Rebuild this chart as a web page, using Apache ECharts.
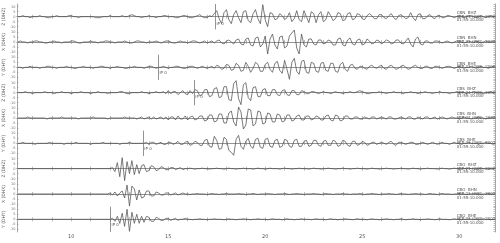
<!DOCTYPE html>
<html><head><meta charset="utf-8">
<script src="https://cdn.jsdelivr.net/npm/echarts@6/dist/echarts.min.js"></script>
<style>html,body{margin:0;padding:0;background:#fff}#c{width:500px;height:243px}</style>
</head><body><div id="c"></div>
<script>
// time axis (seconds) and sampling
const XMIN = 7.2, XMAX = 31.85;
const T0 = 7.25, DT = 0.125;
const xTickLabels = [10, 15, 20, 25, 30];
const yTickValues = [-10, -5, 0, 5, 10];

// component names (left) and station labels (right)
const compNames = ['Z (DHZ)', 'X (DHX)', 'Y (DHY)', 'Z (DHZ)', 'X (DHX)', 'Y (DHY)', 'Z (DHZ)', 'X (DHX)', 'Y (DHY)'];
const stationNames = ['CBN  BHZ', 'CBN  BHN', 'CBN  BHE', 'CBS  BHZ', 'CBS  BHN', 'CBS  BHE', 'CBO  BHZ', 'CBO  BHN', 'CBO  BHE'];
const dateLine = 'SEP 21 (264), 2002';
const timeLine = '01:55:10.000';

// picks: panel index -> time (s), label, label amplitude
const pickPanels = [0, 2, 3, 5, 8];
const pickTimes = [17.41, 14.47, 16.32, 13.69, 12.0];
const pickLabels = ['iP 0', 'iP 0', 'iP 0', 'iP 0', 'iP 0'];
const pickLabelAmp = [-7, -6, -4, -6, -6];

const trace1 = [
0,0,1,0,0,-1,0,0,0,1,
0,0,-1,-1,0,0,1,0,0,0,
0,1,1,0,0,-1,0,0,0,0,
0,0,-1,-1,-1,0,0,0,1,0,
0,0,0,1,0,0,1,2,1,0,
0,-1,0,0,1,0,0,-1,0,0,
1,1,0,0,0,-1,-1,0,1,1,
0,-1,-1,0,1,2,0,-1,-1,1,
0,3,6,-2,-7,4,7,-3,-7,2,
6,-1,-6,5,6,-4,-6,3,7,-2,
-7,12,-3,-10,4,3,-3,-2,3,1,
-3,-1,4,-5,-2,6,-3,-5,6,0,
-6,5,3,-6,2,5,-5,-3,5,1,
-4,-2,4,3,-4,-3,3,4,-3,-2,
3,2,-2,-3,1,3,1,-2,-2,2,
2,-1,-2,1,3,-1,-3,1,2,0,
-2,-1,4,-1,-4,2,3,-2,-2,1,
2,-1,-2,1,1,-1,-1,1,1,0,
-1,0,1,0,-1,0,1,1,0,-1,
0,1,0,-1,0,1,0,0];

const trace2 = [
0,1,0,0,-1,0,0,1,1,0,
0,-1,-1,0,0,1,0,0,-1,0,
0,0,1,1,0,-1,-1,0,0,0,
1,0,0,-1,0,0,1,1,0,0,
-1,0,0,0,1,0,-1,-1,0,1,
1,0,0,-1,0,0,0,1,0,-1,
0,1,1,0,-1,-1,0,1,0,0,
-1,0,1,1,0,-1,0,1,-1,0,
1,-1,1,2,-1,-2,1,2,0,-2,
2,3,-2,-3,3,4,-3,-4,4,5,
-5,-2,6,-12,3,8,-3,-7,5,6,
-6,-4,6,9,12,-6,-12,8,-3,-5,
3,3,-2,-3,2,2,-2,-1,2,1,
-3,-3,3,4,-3,-4,2,4,-2,-3,
2,3,-3,-2,3,1,-2,-1,2,1,
-2,0,2,1,-2,-1,2,2,-1,-2,
1,4,-2,-5,3,5,-2,-3,1,1,
-1,-1,1,1,0,-1,0,1,0,-1,
0,1,1,0,-1,0,1,0,0,1,
0,-1,0,1,0,0,1,0];

const trace3 = [
0,0,-1,0,0,1,0,0,0,-1,
0,0,1,1,0,0,-1,0,0,0,
1,0,0,-1,-1,0,0,1,0,0,
0,-1,0,0,1,1,0,0,-1,0,
0,1,0,0,-1,-1,0,0,1,0,
0,0,-1,0,1,1,0,-1,0,0,
1,0,-1,0,0,1,1,0,-1,-1,
0,1,1,0,-1,0,1,0,-1,0,
1,-1,2,1,-2,-1,3,2,-3,-2,
4,2,-4,-3,5,1,-5,-1,5,3,
-4,-4,3,5,-2,-5,4,6,-3,-6,
7,-2,-12,5,9,-4,-7,6,7,-5,
-6,5,4,-4,-5,4,5,-3,-4,4,
4,-4,-5,3,5,-2,-4,2,3,-1,
-2,1,1,-1,-2,1,2,0,-1,1,
2,-1,-2,1,2,0,-2,-1,1,2,
0,-2,-1,1,2,0,-1,-1,1,1,
-1,-1,1,1,0,-1,0,1,1,0,
-1,0,1,0,-1,0,0,1,0,-1,
0,1,0,0,-1,0,1,0];

const trace4 = [
0,0,0,1,0,0,-1,0,0,0,
0,1,0,0,0,-1,0,0,1,0,
0,0,-1,0,0,0,1,0,0,0,
-1,0,0,1,0,0,0,-1,0,0,
0,0,1,1,0,-1,-1,0,0,0,
0,1,0,0,-1,0,0,1,0,0,
1,-1,2,-1,1,1,-2,0,2,-1,
-2,2,-1,3,2,-3,-2,3,3,-4,
-3,4,5,-5,-4,6,6,-7,-8,9,
12,-6,-12,8,10,-5,-8,5,6,-4,
-4,3,4,-3,-3,3,3,-2,-3,2,
3,-2,-3,2,2,-2,-2,2,1,-1,
-1,1,1,0,-1,0,1,0,0,-1,
0,1,0,0,-1,0,0,1,0,0,
1,2,1,0,-1,-1,0,0,0,1,
0,0,-1,0,0,1,0,0,0,-1,
0,0,1,0,0,-1,0,0,1,0,
0,-1,0,0,1,0,0,0,-1,0,
0,1,0,0,0,-1,0,0,1,0,
0,0,-1,0,0,1,0,0];

const trace5 = [
0,0,0,0,1,0,0,0,0,0,
0,0,-1,0,0,0,0,0,1,0,
0,0,0,0,0,-1,0,0,0,0,
0,1,0,0,0,0,0,-1,0,0,
0,0,0,0,1,0,0,0,0,-1,
0,1,-1,0,1,-1,1,-1,0,1,
-1,1,-2,1,1,-2,2,-1,-1,2,
-2,1,2,-2,-1,2,2,-3,-2,3,
3,-4,-3,4,4,-5,-5,5,7,-4,
-8,11,6,-11,-7,9,8,-8,-6,7,
6,-6,-5,5,4,-4,-4,4,3,-4,
-3,3,3,-3,-2,2,3,-2,-2,2,
2,-2,-1,2,1,-2,-2,2,3,-2,
-3,3,2,-3,-2,2,2,-1,-1,1,
1,-1,-1,1,0,-1,1,1,-1,0,
1,0,-1,1,1,-1,-1,0,1,0,
-1,1,1,-1,-1,1,0,-1,1,1,
-1,0,1,-1,0,1,0,-1,0,1,
0,0,-1,0,1,0,0,-1,0,0,
1,0,0,-1,0,0,1,0];

const trace6 = [
0,0,1,0,0,0,0,-1,0,0,
0,0,0,1,0,0,0,0,0,-1,
0,0,0,0,1,0,0,0,0,0,
-1,0,0,0,0,1,0,0,0,0,
0,0,-1,0,0,0,1,0,0,0,
0,0,0,1,-1,1,1,-1,0,1,
-1,-1,1,1,-1,0,2,-1,-1,1,
2,-2,-1,2,1,-2,-2,3,4,-3,
-4,7,3,-6,-5,6,4,-7,-9,-12,
4,8,-3,-6,2,5,-3,-5,4,5,
-4,-5,4,5,-3,-4,3,4,-4,-3,
4,3,-3,-4,3,4,-3,-3,2,3,
-3,-2,3,3,-2,-3,2,3,-2,-2,
3,2,-3,-2,3,2,-2,-3,2,2,
-2,-1,2,1,-2,-1,1,1,-1,0,
1,0,-1,1,2,-1,-2,1,1,0,
-1,0,1,1,-1,-1,0,1,0,-1,
0,1,0,-1,0,1,0,0,-1,0,
1,0,0,-1,0,0,1,0,0,0,
-1,0,0,1,0,0,-1,0];

const trace7 = [
0,0,0,0,0,0,0,0,0,0,
0,0,0,0,0,0,0,0,0,0,
0,0,0,0,0,0,0,0,0,0,
0,0,0,0,0,0,0,0,0,1,
-3,6,-8,11,-12,7,-5,8,-6,4,
-5,3,4,-3,-2,3,2,-2,-1,2,
1,-1,-1,1,1,-1,0,1,-1,0,
0,0.5,0,-0.5,0,0,0.5,0,0,-0.5,
0,0,0.5,0,0,-0.5,0,0.5,0,0,
-0.5,0,0,0.5,0,0,0,-0.5,0,0.5,
0,0,-0.5,0,0.5,0,0,0,-0.5,0,
0.5,0,0,-0.5,0,0,0.5,0,0,0,
-0.5,0,0.5,0,0,-0.5,0,0,0.5,0,
0,-0.5,0,0,0.5,0,0,-0.5,0,0,
0.5,0,0,0,-0.5,0,0.5,0,0,-0.5,
0,0,0.5,0,0,-0.5,0,0,0.5,0,
0,-0.5,0,0.5,0,0,-0.5,0,0,0.5,
0,0,0,-0.5,0,0.5,0,0,-0.5,0,
0.5,0,0,-0.5,0,0,0.5,0,0,-0.5,
0,0.5,0,0,-0.5,0,0,0.5];

const trace8 = [
0,0,0,0,0,0,0,0,0,0,
0,0,0,0,0,0,0,0,0,0,
0,0,0,0,0,0,0,0,0,0,
0,0,0,0,0,0,0,0,1,-1,
2,-2,1,3,-4,9,-12,8,5,-6,
4,-4,-3,3,3,-2,-2,2,1,-1,
-1,1,1,-1,0,1,-1,0,1,0,
0,-0.5,0,0,0.5,0,0,0,-0.5,0,
0.5,0,0,-0.5,0,0,0.5,0,0,0,
0,0.5,0,0,-0.5,0,0,0.5,0,-0.5,
0,0,0,0.5,0,0,-0.5,0,0,0,
0.5,0,-0.5,0,0,0.5,0,0,-0.5,0,
0,0,0.5,0,0,-0.5,0,0.5,0,0,
-0.5,0,0,0,0.5,0,0,-0.5,0,0,
0,0.5,0,-0.5,0,0,0.5,0,0,-0.5,
0,0,0,0.5,0,0,-0.5,0,0.5,0,
0,-0.5,0,0,0.5,0,0,0,-0.5,0,
0.5,0,0,-0.5,0,0.5,0,0,0,-0.5,
0,0,0.5,0,0,-0.5,0,0,0.5,0,
0,-0.5,0,0,0.5,0,0,0];

const trace9 = [
0,0,0,0,0,0,0,0,0,0,
0,0,0,0,0,0,0,0,0,0,
0,0,0,0,0,0,0,0,0,0,
0,0,0,0,0,0,0,0,0,1,
-2,3,-4,6,-7,10,-12,7,-4,5,
-4,3,-3,3,2,-2,-2,2,1,-1,
-1,1,1,-1,0,1,-1,0,0,1,
0,0,-0.5,0,0,0.5,0,0,-0.5,0,
0,0.5,0,0,0,-0.5,0,0.5,0,0,
-0.5,0,0,0.5,0,0,-0.5,0,0,0.5,
0,0,0,-0.5,0,0.5,0,0,0,-0.5,
0,0.5,0,0,-0.5,0,0,0.5,0,0,
0,-0.5,0,0.5,0,0,0,-0.5,0,0.5,
0,0,-0.5,0,0,0.5,0,0,-0.5,0,
0.5,0,0,0,-0.5,0,0.5,0,0,-0.5,
0,0,0.5,0,0,-0.5,0,0,0.5,0,
-0.5,0,0,0.5,0,0,-0.5,0,0,0.5,
0,0,-0.5,0,0.5,0,0,0,-0.5,0,
0.5,0,0,-0.5,0,0,0.5,0,0,0,
-0.5,0,0.5,0,0,-0.5,0,0];

const traces = [trace1, trace2, trace3, trace4, trace5, trace6, trace7, trace8, trace9];

// layout
const PANEL_TOP = 4, PANEL_H = 25.33, YM = 12.67;
const FONT = 'DejaVu Sans';
const secTicks = [];
for (let s = 8; s <= 31; s++) secTicks.push(s);
const rightTicks = [];
for (let v = -12; v <= 12; v += 2) rightTicks.push(v);

const grid = [], xAxis = [], yAxis = [], series = [];
const axLine = { show: true, lineStyle: { color: '#8f8f8f', width: 0.8 } };
const tickStyle = { color: '#8f8f8f', width: 0.6 };

traces.forEach((tr, k) => {
  grid.push({ left: 17, right: 5, top: PANEL_TOP + k * PANEL_H, height: PANEL_H,
              containLabel: false, outerBoundsMode: 'none' });
  xAxis.push({
    type: 'value', gridIndex: k, min: XMIN, max: XMAX, position: 'bottom',
    axisLine: axLine,
    axisTick: { show: true, inside: true, length: 2, customValues: secTicks, lineStyle: tickStyle },
    axisLabel: { show: k === 8, customValues: xTickLabels, fontSize: 5, margin: 2, color: '#555', fontFamily: FONT },
    splitLine: { show: false }
  });
  xAxis.push({
    type: 'value', gridIndex: k, min: XMIN, max: XMAX, position: 'top',
    axisLine: axLine,
    axisTick: { show: true, inside: true, length: 2, customValues: secTicks, lineStyle: tickStyle },
    axisLabel: { show: false },
    splitLine: { show: false }
  });
  yAxis.push({
    type: 'value', gridIndex: k, min: -YM, max: YM, position: 'left',
    axisLine: axLine,
    axisTick: { show: true, inside: true, length: 1.5, customValues: yTickValues, lineStyle: tickStyle },
    axisLabel: { show: true, customValues: yTickValues, fontSize: 3.5, margin: 1.5, color: '#777', fontFamily: FONT },
    name: compNames[k], nameLocation: 'middle', nameRotate: 90, nameGap: 11,
    nameMoveOverlap: false,
    nameTextStyle: { fontSize: 4.5, color: '#555', fontFamily: FONT },
    splitLine: { show: false }
  });
  yAxis.push({
    type: 'value', gridIndex: k, min: -YM, max: YM, position: 'right',
    axisLine: axLine,
    axisTick: { show: true, inside: true, length: 1.5, customValues: rightTicks, lineStyle: tickStyle },
    axisLabel: { show: false },
    splitLine: { show: false }
  });

  const s = {
    type: 'line', xAxisIndex: 2 * k, yAxisIndex: 2 * k,
    data: tr.map((v, i) => [T0 + i * DT, v]),
    showSymbol: false, symbol: 'none', silent: true, clip: true,
    lineStyle: { color: '#505050', width: 0.75 },
    markPoint: {
      silent: true, symbol: 'rect', symbolSize: 0,
      data: [{
        coord: [29.88, 0],
        label: {
          show: true, position: 'right', distance: 0,
          formatter: stationNames[k] + '\n' + dateLine + '\n' + timeLine,
          fontSize: 4, lineHeight: 3.6, color: '#555', fontFamily: FONT
        }
      }]
    }
  };
  const pi = pickPanels.indexOf(k);
  if (pi >= 0) {
    s.markLine = {
      silent: true, symbol: ['none', 'none'], animation: false,
      label: { show: false },
      lineStyle: { color: '#777', width: 0.8, type: 'solid' },
      data: [{ xAxis: pickTimes[pi] }]
    };
    s.markPoint.data.push({
      coord: [pickTimes[pi], pickLabelAmp[pi]],
      label: {
        show: true, position: 'right', distance: 1.5,
        formatter: pickLabels[pi], fontSize: 4, color: '#555', fontFamily: FONT
      }
    });
  }
  series.push(s);
});

const chart = echarts.init(document.getElementById('c'), null, { renderer: 'canvas' });
chart.setOption({
  animation: false,
  backgroundColor: '#fff',
  grid, xAxis, yAxis, series
});
</script></body></html>
